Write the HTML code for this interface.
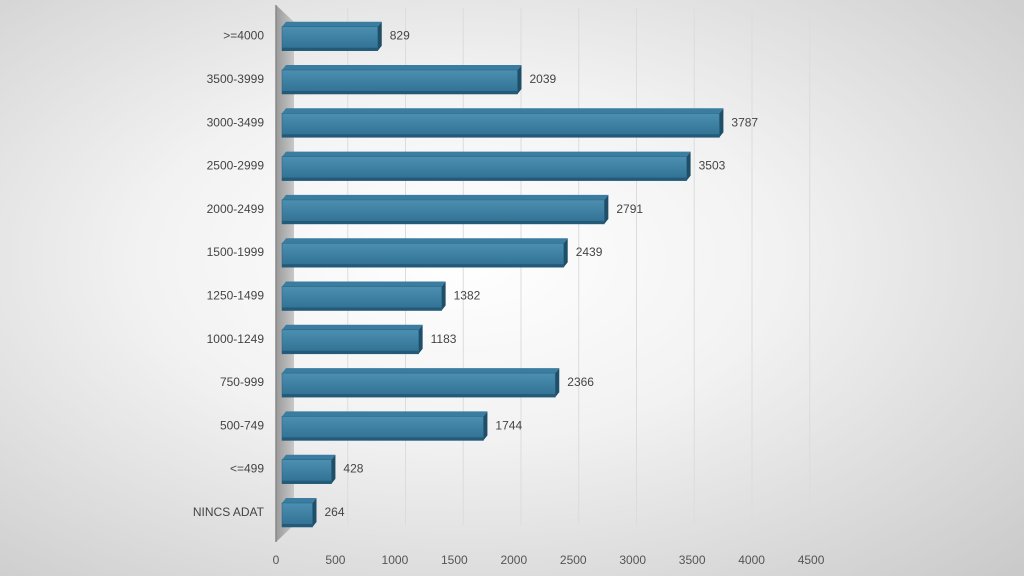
<!DOCTYPE html>
<html><head><meta charset="utf-8"><style>
body{margin:0;width:1024px;height:576px;overflow:hidden;background:radial-gradient(ellipse at 45% 45%,#ffffff 0%,#f2f2f2 40%,#c9c9c9 100%);font-family:"Liberation Sans",sans-serif}
svg{display:block}
</style></head><body>
<svg id="chart" width="1024" height="576" xmlns="http://www.w3.org/2000/svg">
<defs>
<linearGradient id="front" x1="0" y1="0" x2="0" y2="1"><stop offset="0" stop-color="#4d8fb0"/><stop offset="1" stop-color="#2f7092"/></linearGradient>
<linearGradient id="wall" x1="0" y1="0" x2="1" y2="0"><stop offset="0" stop-color="#9a9a9a"/><stop offset="1" stop-color="#c8c8c8"/></linearGradient>
</defs>
<g id="grid"></g><g id="bars"></g><g id="labels"></g>
</svg>
<script>
const categories=["NINCS ADAT","<=499","500-749","750-999","1000-1249","1250-1499","1500-1999","2000-2499","2500-2999","3000-3499","3500-3999",">=4000"];
const values=[264,428,1744,2366,1183,1382,2439,2791,3503,3787,2039,829];
const ticks=[0,500,1000,1500,2000,2500,3000,3500,4000,4500];
const NS="http://www.w3.org/2000/svg";
const grid=document.getElementById('grid'),bars=document.getElementById('bars'),labels=document.getElementById('labels');
const X0=282,S=0.1155,DY=5;
function xf(v){return X0+v*S;}
function xg(v){return 290+v*S;}
function xt(v){return 276+v*0.1189;}
function yc(i){return 512-i*43.3;}
function mk(tag,attrs,parent){const e=document.createElementNS(NS,tag);for(const k in attrs)e.setAttribute(k,attrs[k]);parent.appendChild(e);return e;}
let w=mk('polygon',{points:"276,5 294,22 294,525 276,542",fill:"url(#wall)"},grid);


let wl=mk('line',{x1:276,y1:5,x2:276,y2:542,stroke:"#888","stroke-width":1.5},grid);


ticks.forEach(t=>{
  if(t>0){let g=mk('line',{x1:xg(t),y1:8,x2:xg(t),y2:525,stroke:"#dcdcdc","stroke-width":1},grid);
  
  }
  let tx=mk('text',{x:xt(t),y:564,"text-anchor":"middle","font-size":12,fill:"#555"},labels);
  tx.textContent=t;
  
  
});
categories.forEach((c,i)=>{
  const y=yc(i),h=24,top=y-h/2+3,x1=X0,x2=xf(values[i]);
  const g=mk('g',{},bars);
  
  
  mk('polygon',{points:`${x1},${top} ${x1+4},${top-DY} ${x2+4},${top-DY} ${x2},${top}`,fill:"#3a7da0"},g);
  mk('polygon',{points:`${x2},${top} ${x2+4},${top-DY} ${x2+4},${top+h-DY} ${x2},${top+h}`,fill:"#1f4f68"},g);
  mk('rect',{x:x1,y:top,width:x2-x1,height:h,fill:"url(#front)",stroke:"#2a6585","stroke-width":0.6},g);
  mk('rect',{x:x1,y:top+h-3,width:x2-x1,height:3,fill:"#245a77"},g);
  let vl=mk('text',{x:x2+12,y:y+4,"font-size":12,fill:"#444"},labels);
  vl.textContent=values[i];
  
  
  let cl=mk('text',{x:264,y:y+4,"text-anchor":"end","font-size":12,fill:"#444"},labels);
  cl.textContent=c;
  
  
});
</script>
</body></html>
